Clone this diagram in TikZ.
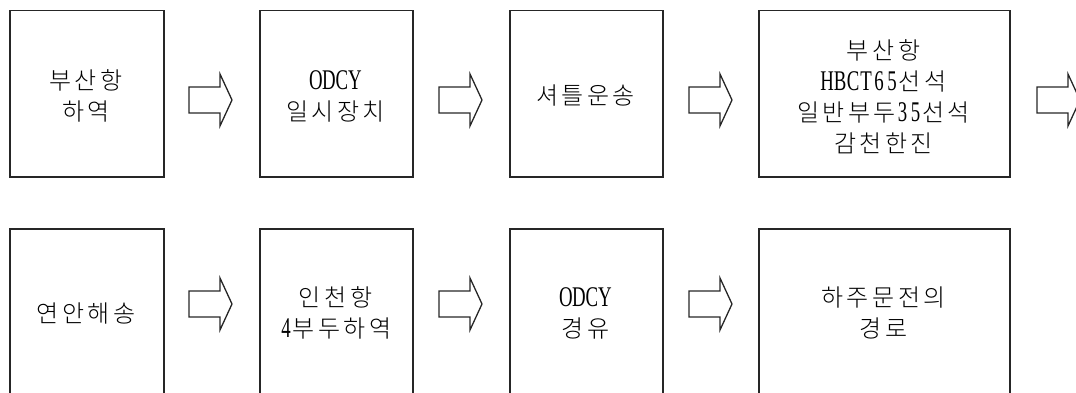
\documentclass[tikz,border=0pt]{standalone}
\usepackage{fontspec}
\newfontfamily\kr{Noto Sans CJK KR}[UprightFont=* Light]
\newfontfamily\latf{Liberation Serif}[FakeStretch=0.66]
% half-width (monospaced) Latin letters, as in the reference
\let\endmono\relax
\def\monoi#1{\ifx\endmono#1\else\makebox[13pt]{#1}\expandafter\monoi\fi}
\newcommand\lat[1]{{\latf\fontsize{28.5}{31}\selectfont\monoi#1\endmono}}
% extra tracking between Hangul syllables
\XeTeXinterchartokenstate=1
\newcount\hc \hc="AC00
\loop \XeTeXcharclass\hc=7 \advance\hc by 1 \ifnum\hc<"D7A4 \repeat
\XeTeXinterchartoks 7 7 = {\hskip 3.5pt\relax}
\begin{document}
\begin{tikzpicture}[x=1pt,y=-1pt,
  box/.style={draw=black!85, line width=1.5pt, minimum height=166pt, inner sep=0pt, anchor=north west},
  lbl/.style={align=center, inner sep=0pt, font=\kr\fontsize{24}{31}\selectfont},
  barrow/.pic={\draw[line width=1.3pt, black!85, line join=miter]
     (0,-13) -- (31,-13) -- (31,-26) -- (43,0) -- (31,26) -- (31,13) -- (0,13) -- cycle;}
]
\useasboundingbox (0,0) rectangle (1076,393);
\clip (0,0) rectangle (1076,393);
% row 1 boxes
\node[box, minimum width=154pt] (b1) at (9,10) {};
\node[box, minimum width=153pt] (b2) at (259,10) {};
\node[box, minimum width=153pt] (b3) at (509,10) {};
\node[box, minimum width=251pt] (b4) at (758,10) {};
% row 2 boxes (cut by the lower edge)
\node[box, minimum width=154pt, minimum height=200pt] (c1) at (9,228) {};
\node[box, minimum width=153pt, minimum height=200pt] (c2) at (259,228) {};
\node[box, minimum width=153pt, minimum height=200pt] (c3) at (509,228) {};
\node[box, minimum width=251pt, minimum height=200pt] (c4) at (758,228) {};
% row 1 texts
\node[lbl] (t1) at (86,96) {부산항\\하역};
\node[lbl] (t2) at (335.5,96) {\lat{ODCY}\\일시장치};
\node[lbl] (t3) at (585.5,96) {셔틀운송};
\node[lbl] (t4) at (883.5,97) {부산항\\\lat{HBCT65}선석\\일반부두\lat{35}선석\\감천한진};
% row 2 texts
\node[lbl] (u1) at (86,313) {연안해송};
\node[lbl] (u2) at (335.5,313) {인천항\\\lat{4}부두하역};
\node[lbl] (u3) at (585.5,313) {\lat{ODCY}\\경유};
\node[lbl] (u4) at (883.5,313) {하주문전의\\경로};
% block arrows
\pic at (189,100) {barrow};
\pic at (439,100) {barrow};
\pic at (689,100) {barrow};
\pic at (1037,100) {barrow};
\pic at (189,304) {barrow};
\pic at (439,304) {barrow};
\pic at (689,304) {barrow};
\end{tikzpicture}
\end{document}
